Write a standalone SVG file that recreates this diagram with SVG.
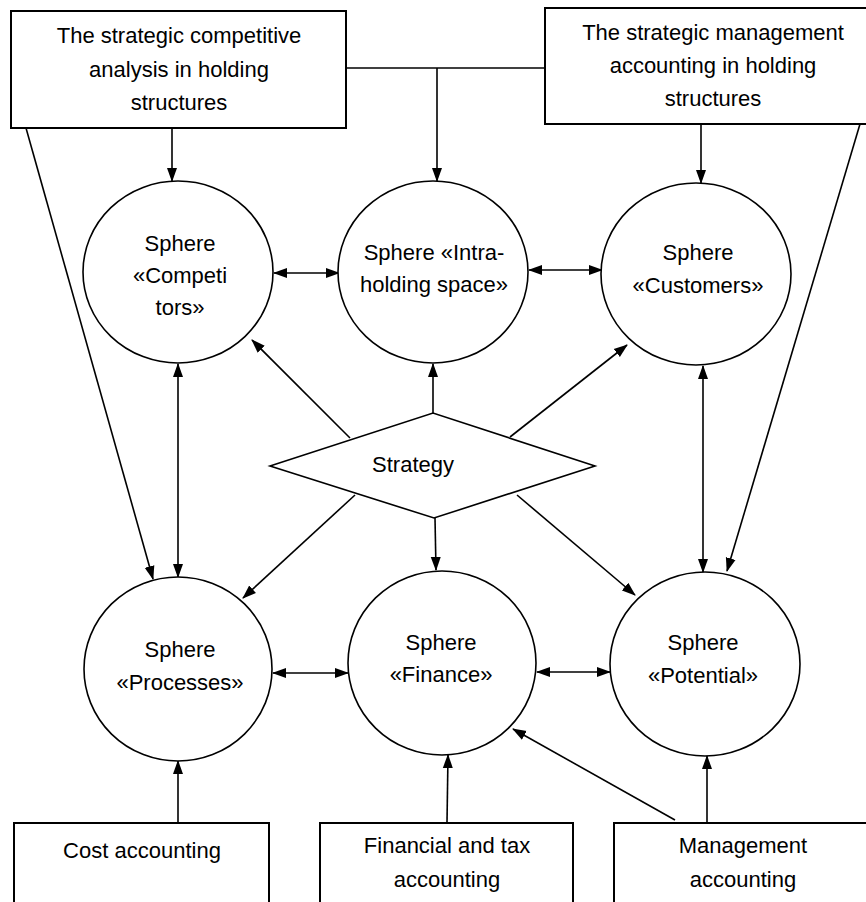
<svg xmlns="http://www.w3.org/2000/svg" width="866" height="902" viewBox="0 0 866 902">
<style>
  .box{fill:#fff;stroke:#000;stroke-width:2}
  .sph{fill:#fff;stroke:#000;stroke-width:1.6}
  .t{font-family:"Liberation Sans",Arial,sans-serif;font-size:22px;fill:#000;text-anchor:middle}
  .c{fill:none;stroke:#000;stroke-width:1.6}
  .a{marker-end:url(#ah)}
  .d{marker-start:url(#ah);marker-end:url(#ah)}
</style>
<defs>
  <marker id="ah" markerUnits="userSpaceOnUse" markerWidth="14" markerHeight="12" refX="13" refY="5" orient="auto-start-reverse" viewBox="0 0 14 10">
    <path d="M0,0 L14,5 L0,10 z" fill="#000"/>
  </marker>
</defs>

<g id="connectors">
  <!-- top-left box -->
  <line class="c a" x1="172" y1="128" x2="172" y2="181"/>
  <line class="c a" x1="26" y1="128" x2="153" y2="579"/>
  <polyline class="c" points="346,68 437,68 545,68"/>
  <line class="c a" x1="437" y1="68" x2="437" y2="181"/>
  <!-- top-right box -->
  <line class="c a" x1="701" y1="124" x2="701" y2="183"/>
  <line class="c a" x1="860" y1="124" x2="727" y2="571"/>
  <!-- horizontal double arrows -->
  <line class="c d" x1="274" y1="273" x2="339" y2="273"/>
  <line class="c d" x1="529" y1="270" x2="602" y2="270"/>
  <line class="c d" x1="273" y1="673" x2="348" y2="673"/>
  <line class="c d" x1="537" y1="672" x2="610" y2="672"/>
  <!-- vertical double arrows -->
  <line class="c d" x1="178" y1="364" x2="178" y2="577"/>
  <line class="c d" x1="703" y1="366" x2="703" y2="572"/>
  <!-- strategy arrows -->
  <line class="c a" x1="350" y1="438" x2="252" y2="340"/>
  <line class="c a" x1="433" y1="413" x2="433" y2="364"/>
  <line class="c a" x1="510" y1="437" x2="627" y2="345"/>
  <line class="c a" x1="355" y1="495" x2="243" y2="598"/>
  <line class="c a" x1="435" y1="518" x2="436" y2="570"/>
  <line class="c a" x1="517" y1="495" x2="635" y2="595"/>
  <!-- bottom boxes -->
  <line class="c a" x1="178" y1="823" x2="178" y2="761"/>
  <line class="c a" x1="447" y1="823" x2="448" y2="755"/>
  <line class="c a" x1="707" y1="823" x2="707" y2="756"/>
  <line class="c a" x1="675" y1="820" x2="513" y2="729"/>
</g>

<g id="box-competitive">
  <rect class="box" x="11" y="11" width="335" height="117"/>
  <text class="t" x="179" y="43">The strategic competitive</text>
  <text class="t" x="179" y="77">analysis in holding</text>
  <text class="t" x="179" y="110">structures</text>
</g>
<g id="box-management">
  <rect class="box" x="545" y="8" width="330" height="116"/>
  <text class="t" x="713" y="40">The strategic management</text>
  <text class="t" x="713" y="73">accounting in holding</text>
  <text class="t" x="713" y="106">structures</text>
</g>

<g id="sphere-competitors">
  <ellipse class="sph" cx="178" cy="272" rx="95" ry="91"/>
  <text class="t" x="180" y="251">Sphere</text>
  <text class="t" x="180" y="283">«Competi</text>
  <text class="t" x="180" y="315">tors»</text>
</g>
<g id="sphere-intra">
  <ellipse class="sph" cx="433" cy="272" rx="95" ry="91"/>
  <text class="t" x="434" y="260">Sphere «Intra-</text>
  <text class="t" x="434" y="292">holding space»</text>
</g>
<g id="sphere-customers">
  <ellipse class="sph" cx="696" cy="274" rx="95" ry="91"/>
  <text class="t" x="698" y="260">Sphere</text>
  <text class="t" x="698" y="293">«Customers»</text>
</g>

<g id="strategy">
  <polygon class="box" style="stroke-width:1.6" points="270,466 433,413 595,466 434,518"/>
  <text class="t" x="413" y="472">Strategy</text>
</g>

<g id="sphere-processes">
  <ellipse class="sph" cx="178" cy="669" rx="94" ry="92"/>
  <text class="t" x="180" y="657">Sphere</text>
  <text class="t" x="180" y="690">«Processes»</text>
</g>
<g id="sphere-finance">
  <ellipse class="sph" cx="442" cy="663" rx="94" ry="92"/>
  <text class="t" x="441" y="650">Sphere</text>
  <text class="t" x="441" y="682">«Finance»</text>
</g>
<g id="sphere-potential">
  <ellipse class="sph" cx="705" cy="664" rx="95" ry="92"/>
  <text class="t" x="703" y="650">Sphere</text>
  <text class="t" x="703" y="683">«Potential»</text>
</g>

<g id="box-cost">
  <rect class="box" x="14" y="823" width="255" height="100"/>
  <text class="t" x="142" y="858">Cost accounting</text>
</g>
<g id="box-financial">
  <rect class="box" x="320" y="823" width="253" height="100"/>
  <text class="t" x="447" y="853">Financial and tax</text>
  <text class="t" x="447" y="887">accounting</text>
</g>
<g id="box-mgmt-accounting">
  <rect class="box" x="614" y="823" width="270" height="100"/>
  <text class="t" x="743" y="853">Management</text>
  <text class="t" x="743" y="887">accounting</text>
</g>
</svg>
